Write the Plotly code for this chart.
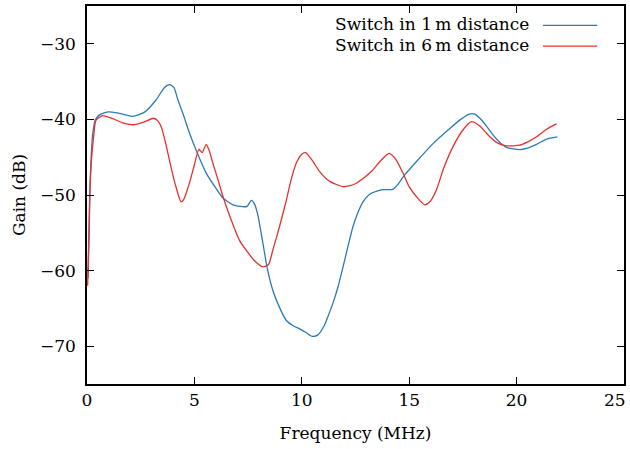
import plotly.graph_objects as go

blue_x = [0.05, 0.1, 0.15, 0.27, 0.4, 0.58, 0.97, 1.5, 2.13, 2.7, 3.22, 3.6, 3.85, 4.05, 4.23, 4.5, 4.77, 5.1, 5.55, 6.0, 6.33, 6.8, 7.26, 7.45, 7.65, 7.8, 7.95, 8.19, 8.4, 8.65, 8.95, 9.28, 9.6, 9.9, 10.2, 10.49, 10.75, 11.06, 11.2, 11.45, 11.7, 11.92, 12.15, 12.38, 12.6, 12.85, 13.16, 13.5, 13.78, 14.24, 14.5, 14.79, 15.33, 16.11, 16.89, 17.4, 17.79, 18.05, 18.29, 18.6, 18.9, 19.2, 19.53, 20.15, 20.5, 20.93, 21.4, 21.9]
blue_y = [-61, -55, -48, -41.8, -40.0, -39.4, -39.0, -39.2, -39.6, -39.0, -37.4, -35.8, -35.4, -35.8, -37.4, -39.5, -41.8, -44.2, -47.1, -49.1, -50.4, -51.3, -51.55, -51.5, -50.7, -51.2, -52.6, -56.4, -59.8, -62.6, -64.8, -66.6, -67.3, -67.7, -68.2, -68.7, -68.5, -67.2, -66.2, -64.3, -62.0, -59.5, -56.8, -54.2, -52.4, -50.9, -49.9, -49.5, -49.3, -49.25, -48.5, -47.35, -45.6, -43.2, -41.2, -40.0, -39.3, -39.3, -39.85, -40.9, -42.05, -43.0, -43.7, -44.0, -43.8, -43.3, -42.6, -42.3]

red_x = [0.03, 0.08, 0.13, 0.19, 0.3, 0.42, 0.73, 1.2, 1.7, 2.21, 2.7, 3.09, 3.3, 3.45, 3.65, 3.84, 4.1, 4.38, 4.5, 4.77, 5.0, 5.21, 5.36, 5.55, 5.7, 5.86, 6.1, 6.33, 6.7, 7.1, 7.41, 7.8, 8.19, 8.45, 8.65, 8.95, 9.28, 9.5, 9.74, 10.0, 10.18, 10.5, 10.83, 11.3, 11.92, 12.2, 12.54, 13.24, 13.63, 14.06, 14.35, 14.71, 15.0, 15.33, 15.72, 15.96, 16.27, 16.6, 17.04, 17.5, 17.9, 18.3, 18.75, 19.1, 19.53, 20.15, 20.5, 20.93, 21.4, 21.86]
red_y = [-62.0, -56, -50, -46.2, -42.5, -40.1, -39.5, -39.9, -40.5, -40.7, -40.3, -39.85, -40.2, -40.95, -43.0, -45.4, -48.5, -50.9, -50.6, -48.4, -46.0, -43.95, -44.4, -43.3, -44.2, -45.8, -48.0, -50.2, -53.2, -56.0, -57.3, -58.7, -59.5, -59.2, -57.3, -54.3, -50.7, -48.0, -45.8, -44.6, -44.4, -45.5, -46.9, -48.2, -48.9, -48.8, -48.45, -46.9, -45.6, -44.5, -45.2, -47.1, -48.9, -50.2, -51.3, -50.9, -49.3, -46.5, -43.6, -41.4, -40.3, -40.9, -42.3, -43.1, -43.5, -43.4, -43.0, -42.3, -41.3, -40.6]

series_names = ["Switch in 1\u2009m distance", "Switch in 6\u2009m distance"]
colors = ["#2a7ab8", "#e8302c"]

x_ticks = [0, 5, 10, 15, 20, 25]
x_ticktext = ["0", "5", "10", "15", "20", ""]   # last label placed as annotation so it stays inside the page
x_last_label = "25"
y_ticks = [-30, -40, -50, -60, -70]

FONT = "DejaVu Serif"
FS = 17

fig = go.Figure()
for xs, ys, name, c in [(blue_x, blue_y, series_names[0], colors[0]),
                        (red_x, red_y, series_names[1], colors[1])]:
    fig.add_trace(go.Scatter(x=xs, y=ys, mode="lines", name=name,
                             line=dict(color=c, width=1.3, shape="spline", smoothing=0.6),
                             showlegend=False))

# legend built from annotations + line samples (text left of sample)
leg_y = [0.953, 0.898]
for name, c, yy in zip(series_names, colors, leg_y):
    fig.add_annotation(xref="paper", yref="paper", x=0.826, y=yy, text=name,
                       showarrow=False, xanchor="right", yanchor="middle",
                       font=dict(family=FONT, size=FS, color="black"))
    fig.add_shape(type="line", xref="paper", yref="paper", x0=0.849, x1=0.950,
                  y0=yy - 0.004, y1=yy - 0.004, line=dict(color=c, width=1.3))

# final x tick label, right-aligned near the page edge
fig.add_annotation(xref="paper", yref="paper", x=1.0, y=0, xanchor="right", xshift=3,
                   yanchor="top", yshift=-5, text=x_last_label, showarrow=False,
                   borderpad=0, font=dict(family=FONT, size=FS, color="black"))

axis_common = dict(showline=True, linecolor="black", linewidth=1.5, mirror="ticks",
                   ticks="inside", ticklen=7, tickwidth=1.2, tickcolor="black",
                   showgrid=False, zeroline=False, automargin=False,
                   tickfont=dict(family=FONT, size=FS, color="black"))

fig.update_xaxes(range=[0, 25], tickvals=x_ticks, ticktext=x_ticktext,
                 title=dict(text="Frequency (MHz)", font=dict(family=FONT, size=FS, color="black"), standoff=18),
                 **axis_common)
fig.update_yaxes(range=[-75, -25], tickvals=y_ticks,
                 title=dict(text="Gain (dB)", font=dict(family=FONT, size=FS, color="black"), standoff=10),
                 ticklabelstandoff=6,
                 **axis_common)

fig.update_layout(width=630, height=449, margin=dict(l=87, r=6, t=6, b=65),
                  plot_bgcolor="white", paper_bgcolor="white",
                  font=dict(family=FONT, size=FS, color="black"))

fig.write_html("out.html")
